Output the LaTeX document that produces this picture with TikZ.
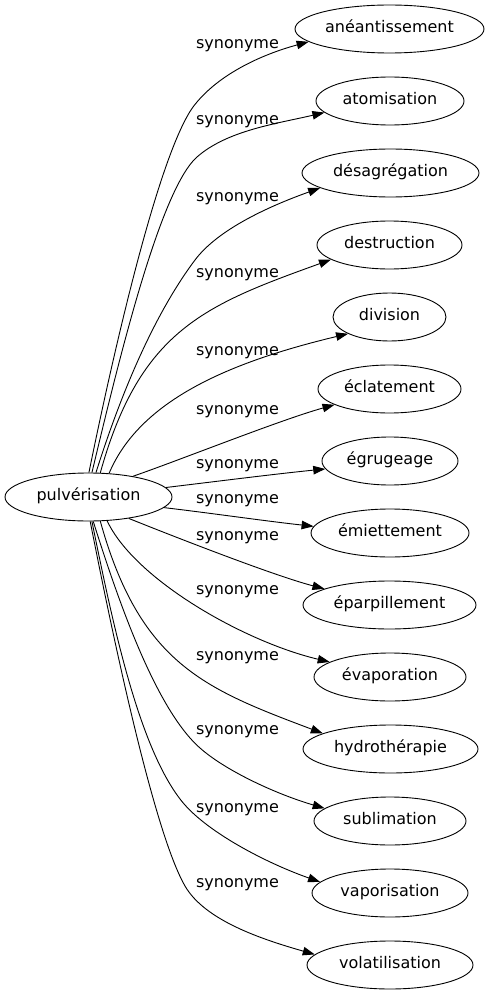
\documentclass[tikz,border=0pt]{standalone}
\usepackage{fontspec}
\setmainfont{DejaVu Sans}
\usetikzlibrary{shapes.geometric,arrows.meta}

\begin{document}
\begin{tikzpicture}[x=1pt,y=-1pt,
	every node/.style={black,font=\fontsize{16}{19}\selectfont},
	word/.style={draw,ellipse,line width=0.9pt,inner sep=0pt,minimum height=48pt,text height=1em,text depth=0.25em},
	rel/.style={line width=0.9pt,-{Triangle[length=12pt,width=8.5pt]}},
	lab/.style={inner sep=0pt}]
	\useasboundingbox (0,0) rectangle (490,995);
%	\coordinate (t  ) at (390, 29+ *72);
	\coordinate (s00) at (88.5, 497);
	\coordinate (t01) at (389.5, 29+0*72);
	\coordinate (t02) at (390, 29+1*72);
	\coordinate (t03) at (390.5, 29+2*72);
	\coordinate (t04) at (389.5, 29+3*72);
	\coordinate (t05) at (389.5, 29+4*72);
	\coordinate (t06) at (389.5, 29+5*72);
	\coordinate (t07) at (390, 29+6*72);
	\coordinate (t08) at (390, 29+7*72);
	\coordinate (t09) at (389.5, 29+8*72);
	\coordinate (t10) at (390, 29+9*72);
	\coordinate (t11) at (390.5, 29+10*72);
	\coordinate (t12) at (390, 29+11*72);
	\coordinate (t13) at (390, 29+12*72);
	\coordinate (t14) at (390, 29+13*72);

	\coordinate (k01) at (193, 107);
	\coordinate (k02) at (197, 157);
	\coordinate (k03) at (195, 260);
	\coordinate (k12) at (200, 748);
	\coordinate (k13) at (182, 801.5);
	\coordinate (k14) at (185, 886);

	\node[word, minimum width=167] (n00) at (s00) {pulvérisation};
	\node[word, minimum width=189] (n01) at (t01) {anéantissement};
	\node[word, minimum width=148] (n02) at (t02) {atomisation};
	\node[word, minimum width=177] (n03) at (t03) {désagrégation};
	\node[word, minimum width=145] (n04) at (t04) {destruction};
	\node[word, minimum width=113] (n05) at (t05) {division};
	\node[word, minimum width=143] (n06) at (t06) {éclatement};
	\node[word, minimum width=136] (n07) at (t07) {égrugeage};
	\node[word, minimum width=158] (n08) at (t08) {émiettement};
	\node[word, minimum width=173] (n09) at (t09) {éparpillement};
	\node[word, minimum width=152] (n10) at (t10) {évaporation};
	\node[word, minimum width=175] (n11) at (t11) {hydrothérapie};
	\node[word, minimum width=152] (n12) at (t12) {sublimation};
	\node[word, minimum width=156] (n13) at (t13) {vaporisation};
	\node[word, minimum width=166] (n14) at (t14) {volatilisation};

	\draw[rel] (n00.89) .. controls +(24,-118) and +(-35,49) .. (k01) .. controls +(24,-32) and +(-48,13) .. (n01.189);
	\draw[rel] (n00.82) .. controls +(25.6,-107) and +(-37.5,33) .. (k02) .. controls +(30,-26.4) and +(-48.7,11.3) .. (n02.190);
	\draw[rel] (n00.73) .. controls +(24,-76) and +(-42,56) .. (k03) .. controls +(24,-32) and +(-47,16.8) .. (n03.192);
	\draw[rel] (n00.64) .. controls (140,330) and (205,305) .. (n04.194);
	\draw[rel] (n00.49) .. controls (140,400) and (230,362) .. (n05.202);
	\draw[rel] (n00.25) .. controls (180,460) and (280,420) .. (n06.196);
	\draw[rel] (n00.7) .. controls (220,481) and (275,474) .. (n07.187);
	\draw[rel] (n00.352) .. controls (210,513) and (265,521) .. (n08.175);
	\draw[rel] (n00.332) .. controls (175,537) and (275,576) .. (n09.166);
	\draw[rel] (n00.308) .. controls (135,580) and (245,642) .. (n10.166);
	\draw[rel] (n00.296) .. controls (140,664) and (205,689) .. (n11.167);
	\draw[rel] (n00.281) .. controls +(24,76) and +(-45,-39.6) .. (k12) .. controls +(26,23) and +(-48,-14) .. (n12.169);
	\draw[rel] (n00.278) .. controls +(20,98) and +(-44,-54.6) .. (k13) .. controls +(25.2,31.2) and +(-52,-18.2) .. (n13.171);
	\draw[rel] (n00.274) .. controls +(25,127.5) and +(-30,-52) .. (k14) .. controls +(20,34.6) and +(-52.8,-15.1) .. (n14.172);

	\node[lab] (l01) at (237.5, 46) {synonyme};
	\node[lab] (l02) at (237.5, 122) {synonyme};
	\node[lab] (l03) at (237.5, 199) {synonyme};
	\node[lab] (l04) at (237.5, 275) {synonyme};
	\node[lab] (l05) at (237.5, 353) {synonyme};
	\node[lab] (l06) at (237.5, 412) {synonyme};
	\node[lab] (l07) at (237.5, 466) {synonyme};
	\node[lab] (l08) at (237.5, 501) {synonyme};
	\node[lab] (l09) at (237.5, 538) {synonyme};
	\node[lab] (l10) at (237.5, 592) {synonyme};
	\node[lab] (l11) at (237.5, 658) {synonyme};
	\node[lab] (l12) at (237.5, 732) {synonyme};
	\node[lab] (l13) at (237.5, 810) {synonyme};
	\node[lab] (l14) at (237.5, 885) {synonyme};
\end{tikzpicture}
\end{document}
